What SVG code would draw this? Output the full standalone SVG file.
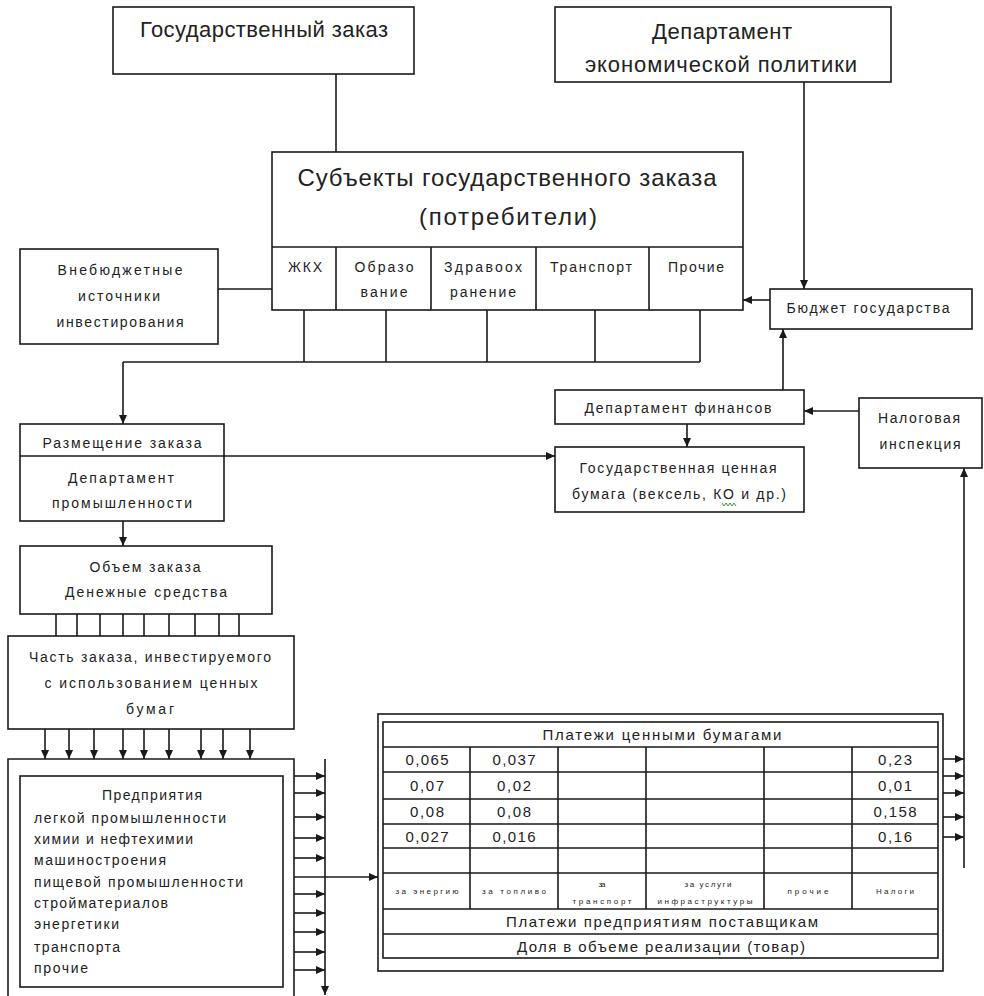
<svg xmlns="http://www.w3.org/2000/svg" width="984" height="996" viewBox="0 0 984 996">
<defs>
<marker id="ah" markerWidth="10" markerHeight="10" refX="9" refY="5" orient="auto" markerUnits="userSpaceOnUse"><path d="M0,1 L9,5 L0,9 Z" fill="#1a1a1a"/></marker>
<style>
.b{fill:#fff;stroke:#1a1a1a;stroke-width:1.6}
.l{fill:none;stroke:#1a1a1a;stroke-width:1.6}
.a{fill:none;stroke:#1a1a1a;stroke-width:1.6;marker-end:url(#ah)}
text{font-family:"Liberation Sans",Arial,sans-serif;fill:#222;text-anchor:middle}
.t22{font-size:22px}
.t24{font-size:24px}
.t14{font-size:14px}
.t15{font-size:15px}
.t8{font-size:8px}
.lft{text-anchor:start}
</style>
</defs>
<rect width="984" height="996" fill="#fff"/>

<g id="connectors">
<path class="l" d="M336,74 V152"/>
<path class="l" d="M218,289 H272"/>
<path class="l" d="M304,310 V362 M386,310 V362 M487,310 V362 M595,310 V362 M700,310 V362 M123,362 H700"/>
<path class="a" d="M123,362 V424"/>
<path class="a" d="M804,82 V289"/>
<path class="a" d="M770,300 H743"/>
<path class="a" d="M783,390 V329"/>
<path class="a" d="M859,411 H804"/>
<path class="a" d="M687,424 V447"/>
<path class="a" d="M224,456 H555"/>
<path class="a" d="M123,521 V546"/>
<path class="l" d="M56,614 V636 M77,614 V636 M100,614 V636 M123,614 V636 M144,614 V636 M169,614 V636 M195,614 V636 M219,614 V636 M239,614 V636"/>
<path class="a" d="M45,729 V759"/>
<path class="a" d="M69,729 V759"/>
<path class="a" d="M94,729 V759"/>
<path class="a" d="M123,729 V759"/>
<path class="a" d="M144,729 V759"/>
<path class="a" d="M169,729 V759"/>
<path class="a" d="M201,729 V759"/>
<path class="a" d="M223,729 V759"/>
<path class="a" d="M250,729 V759"/>
<path class="a" d="M294,776 H325"/>
<path class="a" d="M294,793 H325"/>
<path class="a" d="M294,817 H325"/>
<path class="a" d="M294,838 H325"/>
<path class="a" d="M294,858 H325"/>
<path class="a" d="M294,894 H325"/>
<path class="a" d="M294,913 H325"/>
<path class="a" d="M294,932 H325"/>
<path class="a" d="M294,952 H325"/>
<path class="a" d="M294,970 H325"/>
<path class="a" d="M294,877 H378"/>
<path class="a" d="M325,759 V995"/>
<path class="a" d="M943,759 H964"/>
<path class="a" d="M943,776 H964"/>
<path class="a" d="M943,793 H964"/>
<path class="a" d="M943,817 H964"/>
<path class="a" d="M943,837 H964"/>
<path class="a" d="M964,868 V468"/>
</g>

<g id="gos-zakaz">
<rect class="b" x="113" y="7" width="301" height="67"/>
<text class="t22" x="264" y="37" textLength="248">Государственный заказ</text>
</g>

<g id="dep-econ">
<rect class="b" x="555" y="7" width="336" height="75"/>
<text class="t22" x="722" y="39" textLength="140">Департамент</text>
<text class="t22" x="721" y="72" textLength="272">экономической политики</text>
</g>

<g id="subjects">
<rect class="b" x="272" y="152" width="471" height="158"/>
<path class="l" d="M272,247 H743 M336,247 V310 M431,247 V310 M536,247 V310 M649,247 V310"/>
<text class="t24" x="507" y="186" textLength="419">Субъекты государственного заказа</text>
<text class="t24" x="508" y="225" textLength="178">(потребители)</text>
<text class="t14" x="305" y="272" textLength="34">ЖКХ</text>
<text class="t14" x="384" y="272" textLength="59">Образо</text>
<text class="t14" x="384" y="297" textLength="47">вание</text>
<text class="t14" x="483" y="272" textLength="78">Здравоох</text>
<text class="t14" x="483" y="297" textLength="66">ранение</text>
<text class="t14" x="591" y="272" textLength="82">Транспорт</text>
<text class="t14" x="696" y="272" textLength="56">Прочие</text>
</g>

<g id="vnebudget">
<rect class="b" x="20" y="249" width="198" height="95"/>
<text class="t14" x="120" y="275" textLength="125">Внебюджетные</text>
<text class="t14" x="119" y="301" textLength="82">источники</text>
<text class="t14" x="120" y="327" textLength="127">инвестирования</text>
</g>

<g id="budget">
<rect class="b" x="770" y="289" width="202" height="40"/>
<text class="t14" x="868" y="313" textLength="163">Бюджет государства</text>
</g>

<g id="dep-fin">
<rect class="b" x="555" y="390" width="249" height="34"/>
<text class="t14" x="678" y="413" textLength="187">Департамент финансов</text>
</g>

<g id="nalog">
<rect class="b" x="859" y="398" width="123" height="70"/>
<text class="t14" x="919" y="423" textLength="82">Налоговая</text>
<text class="t14" x="920" y="449" textLength="81">инспекция</text>
</g>

<g id="gos-bumaga">
<rect class="b" x="555" y="447" width="249" height="65"/>
<text class="t14" x="678" y="473" textLength="197">Государственная  ценная</text>
<text class="t14" x="679" y="499" textLength="214">бумага (вексель, КО и др.)</text>
<polyline points="722,503 724,506 726,503 728,506 730,503 732,506 734,503 736,506" fill="none" stroke="#3a9a3a" stroke-width="1"/>
</g>

<g id="razmeshchenie">
<rect class="b" x="20" y="424" width="204" height="97"/>
<path class="l" d="M20,456 H224"/>
<text class="t14" x="122" y="448" textLength="159">Размещение заказа</text>
<text class="t14" x="121" y="483" textLength="106">Департамент</text>
<text class="t14" x="122" y="508" textLength="140">промышленности</text>
</g>

<g id="obyem">
<rect class="b" x="20" y="546" width="252" height="68"/>
<text class="t14" x="145" y="572" textLength="111">Объем заказа</text>
<text class="t14" x="146" y="597" textLength="162">Денежные средства</text>
</g>

<g id="chast">
<rect class="b" x="8" y="636" width="286" height="93"/>
<text class="t14" x="150" y="662" textLength="242">Часть заказа, инвестируемого</text>
<text class="t14" x="151" y="688" textLength="213">с использованием  ценных</text>
<text class="t14" x="150" y="714" textLength="48">бумаг</text>
</g>

<g id="predpriyatiya">
<path class="l" d="M8,996 V759 H294 V996"/>
<rect class="b" x="20" y="776" width="263" height="211"/>
<text class="t14" x="152" y="800" textLength="100">Предприятия</text>
<text class="t14 lft" x="34" y="823" textLength="192">легкой промышленности</text>
<text class="t14 lft" x="34" y="844" textLength="159">химии и нефтехимии</text>
<text class="t14 lft" x="34" y="865" textLength="132">машиностроения</text>
<text class="t14 lft" x="34" y="887" textLength="209">пищевой промышленности</text>
<text class="t14 lft" x="34" y="908" textLength="134">стройматериалов</text>
<text class="t14 lft" x="34" y="929" textLength="85">энергетики</text>
<text class="t14 lft" x="34" y="952" textLength="86">транспорта</text>
<text class="t14 lft" x="34" y="973" textLength="54">прочие</text>
</g>

<g id="table">
<rect class="b" x="378" y="714" width="565" height="257"/>
<rect class="b" x="383" y="722" width="555" height="236"/>
<path class="l" d="M383,747 H938 M383,772 H938 M383,799 H938 M383,824 H938 M383,848 H938 M383,873 H938 M383,909 H938 M383,934 H938"/>
<path class="l" d="M470,747 V909 M558,747 V909 M646,747 V909 M764,747 V909 M852,747 V909"/>
<text class="t15" x="662" y="740" textLength="239">Платежи ценными  бумагами</text>
<text class="t15" x="427" y="765" textLength="43">0,065</text>
<text class="t15" x="514" y="765" textLength="43">0,037</text>
<text class="t15" x="895" y="765" textLength="34">0,23</text>
<text class="t15" x="427" y="791" textLength="34">0,07</text>
<text class="t15" x="514" y="791" textLength="34">0,02</text>
<text class="t15" x="895" y="791" textLength="34">0,01</text>
<text class="t15" x="427" y="817" textLength="34">0,08</text>
<text class="t15" x="514" y="817" textLength="34">0,08</text>
<text class="t15" x="895" y="817" textLength="43">0,158</text>
<text class="t15" x="427" y="842" textLength="43">0,027</text>
<text class="t15" x="514" y="842" textLength="43">0,016</text>
<text class="t15" x="895" y="842" textLength="34">0,16</text>
<text class="t8" x="427" y="894" textLength="63">за энергию</text>
<text class="t8" x="514" y="894" textLength="64">за топливо</text>
<text class="t8" x="602" y="887" textLength="7">за</text>
<text class="t8" x="602" y="904" textLength="59">транспорт</text>
<text class="t8" x="708" y="887" textLength="47">за услуги</text>
<text class="t8" x="705" y="904" textLength="95">инфраструктуры</text>
<text class="t8" x="808" y="894" textLength="41">прочие</text>
<text class="t8" x="895" y="894" textLength="38">Налоги</text>
<text class="t15" x="662" y="927" textLength="312">Платежи предприятиям  поставщикам</text>
<text class="t15" x="661" y="952" textLength="288">Доля в объеме реализации  (товар)</text>
</g>
</svg>
